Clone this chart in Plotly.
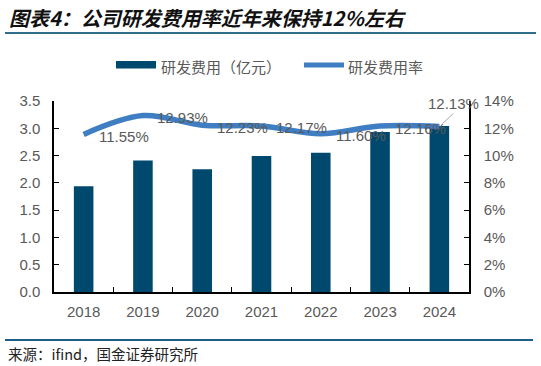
import plotly.graph_objects as go

years = ["2018", "2019", "2020", "2021", "2022", "2023", "2024"]
rd_expense = [1.94, 2.41, 2.25, 2.49, 2.55, 2.93, 3.04]
rd_ratio = [11.55, 12.93, 12.23, 12.17, 11.60, 12.16, 12.13]
bar_name = "研发费用（亿元）"
line_name = "研发费用率"
title_text = "图表4：公司研发费用率近年来保持12%左右"
source_text = "来源：ifind，国金证券研究所"

BAR_C = "#00496E"
LINE_C = "#3F7EC2"
TICK_C = "#595959"
FONT = "Liberation Sans, Arial, sans-serif"
CJK = "Noto Sans CJK SC, sans-serif"

W, H = 541, 366
L, R, T, B = 54, 469, 101, 292


def px(x):
    return (x - L) / (R - L)


def py(y):
    return (B - y) / (B - T)


fig = go.Figure()
fig.add_trace(go.Bar(x=years, y=rd_expense, marker=dict(color=BAR_C, line=dict(width=0)),
                     width=0.33, showlegend=False, yaxis="y"))
fig.add_trace(go.Scatter(x=years, y=rd_ratio, mode="lines", yaxis="y2",
                         line=dict(color=LINE_C, width=5.5, shape="spline", smoothing=1.0),
                         showlegend=False))

annos = []
for i, v in enumerate(rd_ratio):
    if i == len(rd_ratio) - 1:
        annos.append(dict(x=i, y=v, xref="x", yref="y2", text=f"{v:.2f}%",
                          showarrow=True, arrowhead=0, arrowwidth=1, arrowcolor="#A6A6A6",
                          standoff=4, ax=14, ay=-13, xanchor="center", yanchor="bottom",
                          font=dict(family=FONT, size=15, color=TICK_C)))
    else:
        annos.append(dict(x=i, y=v, xref="x", yref="y2", text=f"{v:.2f}%",
                          showarrow=False, xshift=40, yshift=-2,
                          font=dict(family=FONT, size=15, color=TICK_C)))

annos.append(dict(x=px(7), y=py(18), xref="paper", yref="paper", xanchor="left", yanchor="middle",
                  text="<b><i>" + title_text + "</i></b>", showarrow=False,
                  font=dict(family=CJK, size=20, color="#111111")))
annos.append(dict(x=px(6), y=py(353), xref="paper", yref="paper", xanchor="left", yanchor="middle",
                  text=source_text, showarrow=False,
                  font=dict(family=CJK, size=14.5, color="#222222")))
annos.append(dict(x=px(159), y=py(67), xref="paper", yref="paper", xanchor="left", yanchor="middle",
                  text=bar_name, showarrow=False, font=dict(family=CJK, size=15, color=TICK_C)))
annos.append(dict(x=px(346), y=py(67), xref="paper", yref="paper", xanchor="left", yanchor="middle",
                  text=line_name, showarrow=False, font=dict(family=CJK, size=15, color=TICK_C)))

shapes = [
    dict(type="line", xref="paper", yref="paper", x0=px(5), x1=px(536), y0=py(33), y1=py(33),
         line=dict(color="#2F6E8D", width=2)),
    dict(type="line", xref="paper", yref="paper", x0=px(5), x1=px(533), y0=py(340), y1=py(340),
         line=dict(color="#1F5F85", width=2)),
    dict(type="rect", xref="paper", yref="paper", x0=px(116), x1=px(156), y0=py(68.5), y1=py(61),
         fillcolor=BAR_C, line=dict(width=0)),
    dict(type="line", xref="paper", yref="paper", x0=px(304), x1=px(344), y0=py(65), y1=py(65),
         line=dict(color=LINE_C, width=5)),
]

tick_font = dict(family=FONT, size=15, color=TICK_C)
fig.update_layout(
    width=W, height=H,
    margin=dict(l=L, r=W - R, t=T, b=H - B),
    paper_bgcolor="white", plot_bgcolor="white",
    xaxis=dict(type="category", range=[-0.5, 6.5], autorange=False, showline=True, linecolor="black",
               linewidth=1.5, ticks="inside", tickson="boundaries", ticklen=5, tickcolor="black",
               ticklabelstandoff=5, tickfont=tick_font, showgrid=False, zeroline=False),
    yaxis=dict(range=[0, 3.5], autorange=False, dtick=0.5, tickformat=".1f", showline=True, linecolor="black",
               linewidth=1.5, ticks="inside", ticklen=5, tickcolor="black", showgrid=False, zeroline=False,
               ticklabelstandoff=9, tickfont=tick_font),
    yaxis2=dict(range=[0, 14], autorange=False, dtick=2, ticksuffix="%", overlaying="y", side="right",
                showline=True, linecolor="black", linewidth=1.5, ticks="inside", ticklen=5,
                tickcolor="black", showgrid=False, zeroline=False, ticklabelstandoff=10,
                tickfont=tick_font),
    annotations=annos, shapes=shapes, showlegend=False,
)

fig.write_html("out.html", config={"displayModeBar": False},
               post_script="document.body.style.margin='0';")
